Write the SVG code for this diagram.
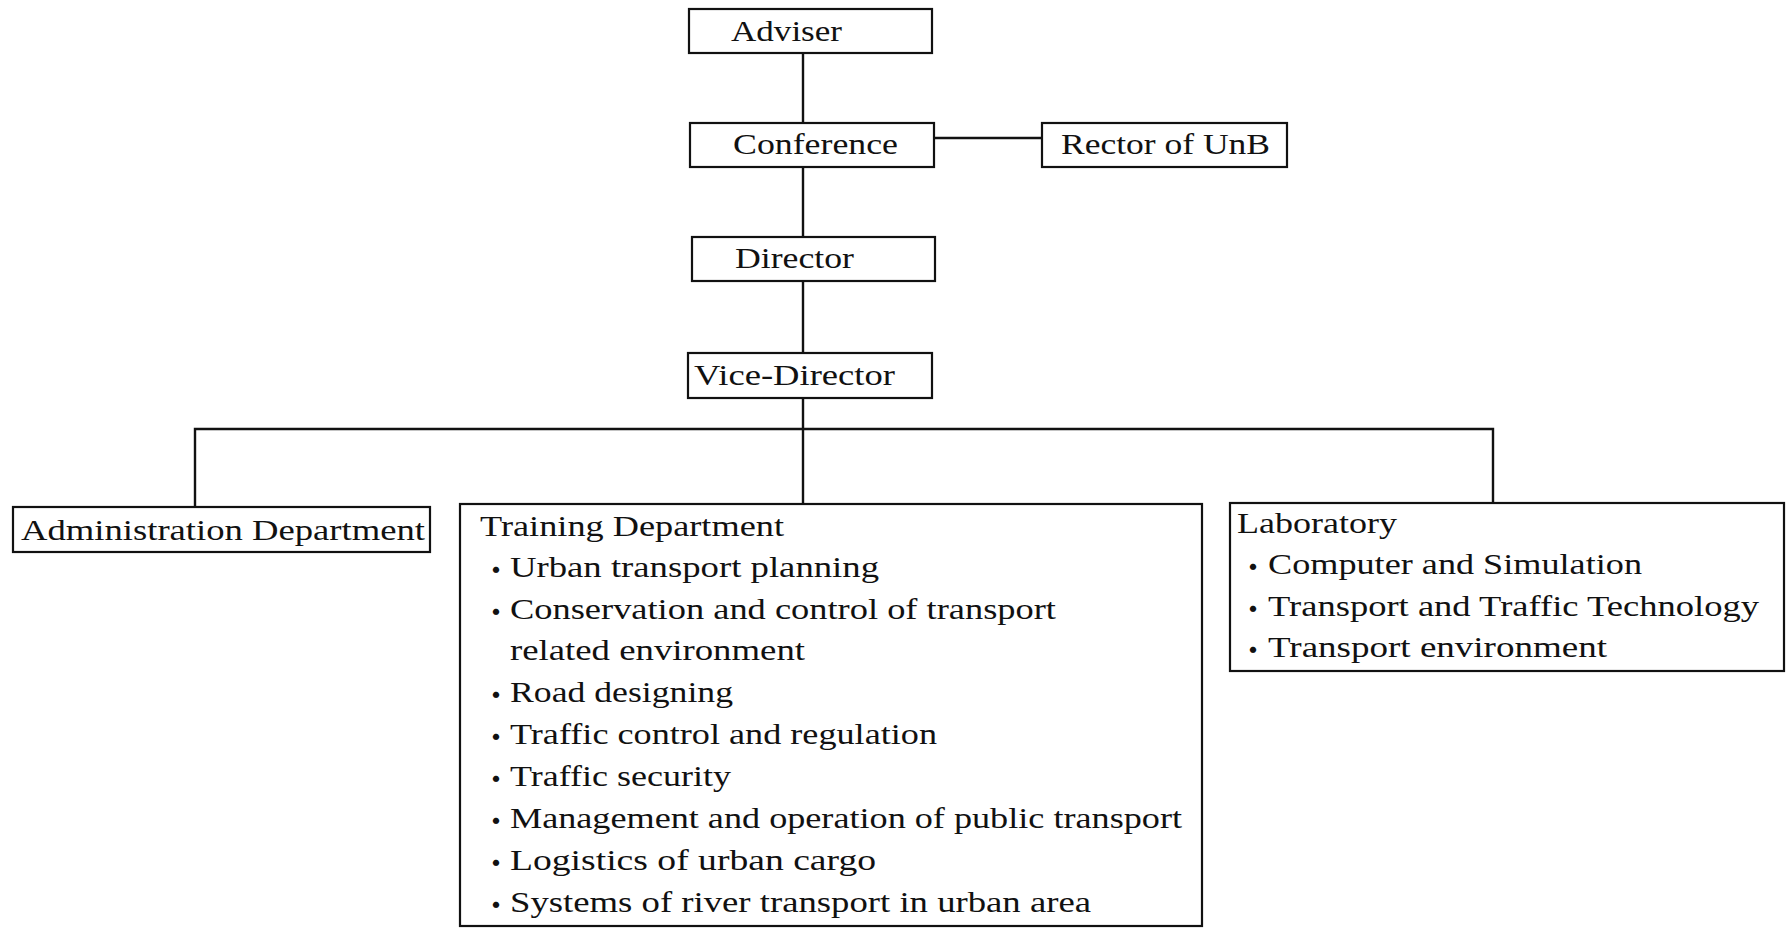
<svg xmlns="http://www.w3.org/2000/svg" width="1787" height="929" viewBox="0 0 1787 929">
<style>
.box{fill:none;stroke:#111;stroke-width:2.2}
.ln{fill:none;stroke:#111;stroke-width:2.4}
.t{font-family:"Liberation Serif","Times New Roman",serif;font-size:30px;fill:#111}
.b{font-family:"Noto Sans CJK JP","DejaVu Sans",sans-serif;font-size:30px;text-anchor:middle}
</style>
<rect width="1787" height="929" fill="#fff"/>
<g id="connectors">
<path class="ln" d="M803 53V123"/>
<path class="ln" d="M803 167V237"/>
<path class="ln" d="M803 281V353"/>
<path class="ln" d="M803 398V504"/>
<path class="ln" d="M934 138H1042"/>
<path class="ln" d="M195 507V429H1493V503"/>
</g>
<g id="adviser">
<rect class="box" x="689" y="9" width="243" height="44"/>
<text class="t" x="731" y="41" textLength="111" lengthAdjust="spacingAndGlyphs">Adviser</text>
</g>
<g id="conference">
<rect class="box" x="690" y="123" width="244" height="44"/>
<text class="t" x="733" y="154" textLength="165" lengthAdjust="spacingAndGlyphs">Conference</text>
</g>
<g id="rector">
<rect class="box" x="1042" y="123" width="245" height="44"/>
<text class="t" x="1061" y="154" textLength="209" lengthAdjust="spacingAndGlyphs">Rector of UnB</text>
</g>
<g id="director">
<rect class="box" x="692" y="237" width="243" height="44"/>
<text class="t" x="735" y="268" textLength="119" lengthAdjust="spacingAndGlyphs">Director</text>
</g>
<g id="vice-director">
<rect class="box" x="688" y="353" width="244" height="45"/>
<text class="t" x="694" y="385" textLength="201" lengthAdjust="spacingAndGlyphs">Vice-Director</text>
</g>
<g id="administration">
<rect class="box" x="13" y="507" width="417" height="45"/>
<text class="t" x="21" y="540" textLength="404" lengthAdjust="spacingAndGlyphs">Administration Department</text>
</g>
<g id="training">
<rect class="box" x="460" y="504" width="742" height="422"/>
<text class="t" x="480" y="536" textLength="304" lengthAdjust="spacingAndGlyphs">Training Department</text>
<text class="t"><tspan class="b" x="496" y="581">・</tspan><tspan x="510" y="577" textLength="369" lengthAdjust="spacingAndGlyphs">Urban transport planning</tspan></text>
<text class="t"><tspan class="b" x="496" y="623">・</tspan><tspan x="510" y="619" textLength="546" lengthAdjust="spacingAndGlyphs">Conservation and control of transport</tspan></text>
<text class="t" x="510" y="660" textLength="295" lengthAdjust="spacingAndGlyphs">related environment</text>
<text class="t"><tspan class="b" x="496" y="706">・</tspan><tspan x="510" y="702" textLength="223" lengthAdjust="spacingAndGlyphs">Road designing</tspan></text>
<text class="t"><tspan class="b" x="496" y="748">・</tspan><tspan x="510" y="744" textLength="427" lengthAdjust="spacingAndGlyphs">Traffic control and regulation</tspan></text>
<text class="t"><tspan class="b" x="496" y="790">・</tspan><tspan x="510" y="786" textLength="221" lengthAdjust="spacingAndGlyphs">Traffic security</tspan></text>
<text class="t"><tspan class="b" x="496" y="832">・</tspan><tspan x="510" y="828" textLength="672" lengthAdjust="spacingAndGlyphs">Management and operation of public transport</tspan></text>
<text class="t"><tspan class="b" x="496" y="874">・</tspan><tspan x="510" y="870" textLength="366" lengthAdjust="spacingAndGlyphs">Logistics of urban cargo</tspan></text>
<text class="t"><tspan class="b" x="496" y="916">・</tspan><tspan x="510" y="912" textLength="581" lengthAdjust="spacingAndGlyphs">Systems of river transport in urban area</tspan></text>
</g>
<g id="laboratory">
<rect class="box" x="1230" y="503" width="554" height="168"/>
<text class="t" x="1237" y="533" textLength="160" lengthAdjust="spacingAndGlyphs">Laboratory</text>
<text class="t"><tspan class="b" x="1253" y="578">・</tspan><tspan x="1268" y="574" textLength="374" lengthAdjust="spacingAndGlyphs">Computer and Simulation</tspan></text>
<text class="t"><tspan class="b" x="1253" y="620">・</tspan><tspan x="1268" y="616" textLength="491" lengthAdjust="spacingAndGlyphs">Transport and Traffic Technology</tspan></text>
<text class="t"><tspan class="b" x="1253" y="661">・</tspan><tspan x="1268" y="657" textLength="339" lengthAdjust="spacingAndGlyphs">Transport environment</tspan></text>
</g>
</svg>
